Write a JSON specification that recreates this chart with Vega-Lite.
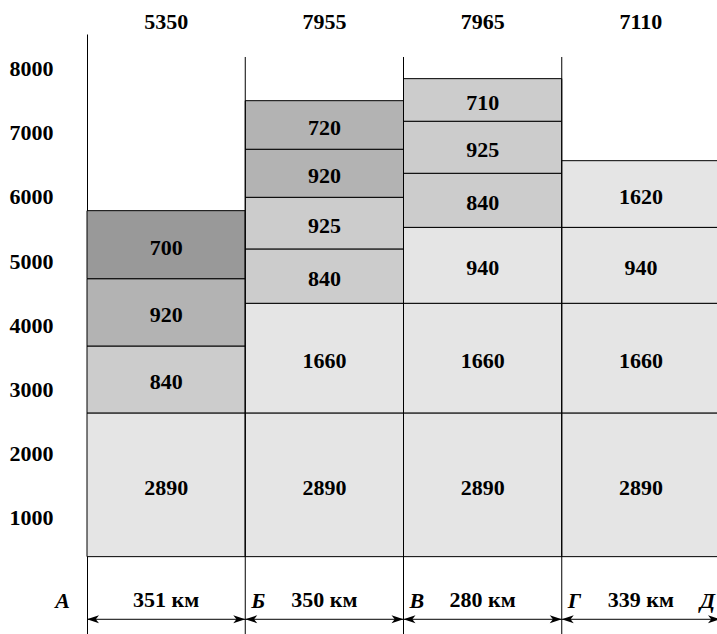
{
  "$schema": "https://vega.github.io/schema/vega-lite/v6.json",
  "autosize": "none",
  "padding": {"left": 87, "top": 34, "right": 0, "bottom": 0},
  "width": 633,
  "height": 600,
  "config": {"view": {"stroke": null}, "font": "Liberation Serif"},
  "datasets": {
    "segments": [
      {"seg": "А–Б", "from": "А", "to": "Б", "km": "351 км", "total": 5350},
      {"seg": "Б–В", "from": "Б", "to": "В", "km": "350 км", "total": 7955},
      {"seg": "В–Г", "from": "В", "to": "Г", "km": "280 км", "total": 7965},
      {"seg": "Г–Д", "from": "Г", "to": "Д", "km": "339 км", "total": 7110}
    ],
    "blocks": [
      {"seg": "А–Б", "value": 2890, "y0": 398, "y1": 2635, "level": "1"},
      {"seg": "А–Б", "value": 840, "y0": 2635, "y1": 3677, "level": "2"},
      {"seg": "А–Б", "value": 920, "y0": 3677, "y1": 4725, "level": "3"},
      {"seg": "А–Б", "value": 700, "y0": 4725, "y1": 5784, "level": "4"},
      {"seg": "Б–В", "value": 2890, "y0": 398, "y1": 2635, "level": "1"},
      {"seg": "Б–В", "value": 1660, "y0": 2635, "y1": 4342, "level": "1"},
      {"seg": "Б–В", "value": 840, "y0": 4342, "y1": 5188, "level": "2"},
      {"seg": "Б–В", "value": 925, "y0": 5188, "y1": 5992, "level": "2"},
      {"seg": "Б–В", "value": 920, "y0": 5992, "y1": 6740, "level": "3"},
      {"seg": "Б–В", "value": 720, "y0": 6740, "y1": 7496, "level": "3"},
      {"seg": "В–Г", "value": 2890, "y0": 398, "y1": 2635, "level": "1"},
      {"seg": "В–Г", "value": 1660, "y0": 2635, "y1": 4342, "level": "1"},
      {"seg": "В–Г", "value": 940, "y0": 4342, "y1": 5524, "level": "1"},
      {"seg": "В–Г", "value": 840, "y0": 5524, "y1": 6366, "level": "2"},
      {"seg": "В–Г", "value": 925, "y0": 6366, "y1": 7176, "level": "2"},
      {"seg": "В–Г", "value": 710, "y0": 7176, "y1": 7839, "level": "2"},
      {"seg": "Г–Д", "value": 2890, "y0": 398, "y1": 2635, "level": "1"},
      {"seg": "Г–Д", "value": 1660, "y0": 2635, "y1": 4342, "level": "1"},
      {"seg": "Г–Д", "value": 940, "y0": 4342, "y1": 5524, "level": "1"},
      {"seg": "Г–Д", "value": 1620, "y0": 5524, "y1": 6562, "level": "1"}
    ]
  },
  "layer": [
    {
      "data": {"name": "blocks"},
      "mark": {"type": "rect", "stroke": "black", "strokeWidth": 1},
      "encoding": {
        "x": {"field": "seg", "type": "nominal", "axis": null,
              "scale": {"domain": ["А–Б", "Б–В", "В–Г", "Г–Д"], "paddingInner": 0, "paddingOuter": 0}},
        "y": {"field": "y0", "type": "quantitative",
              "scale": {"domain": [-806, 8534], "nice": false, "zero": false},
              "axis": {"values": [1000, 2000, 3000, 4000, 5000, 6000, 7000, 8000], "format": "d", "title": null,
                       "grid": false, "ticks": false, "labelPadding": 34, "domainColor": "black",
                       "domainWidth": 1, "labelFont": "Liberation Serif", "labelFontWeight": "bold",
                       "labelFontSize": 22, "labelColor": "black"}},
        "y2": {"field": "y1"},
        "color": {"field": "level", "type": "nominal", "legend": null,
                  "scale": {"domain": ["1", "2", "3", "4"], "range": ["#e5e5e5", "#cccccc", "#b3b3b3", "#999999"]}}
      }
    },
    {
      "data": {"name": "blocks"},
      "transform": [{"calculate": "(datum.y0 + datum.y1) / 2", "as": "ymid"}],
      "mark": {"type": "text", "font": "Liberation Serif", "fontSize": 22, "fontWeight": "bold", "color": "black", "baseline": "middle", "dy": 3},
      "encoding": {
        "x": {"field": "seg", "type": "nominal", "axis": null},
        "y": {"field": "ymid", "type": "quantitative"},
        "text": {"field": "value", "type": "quantitative", "format": "d"}
      }
    },
    {
      "data": {"name": "segments"},
      "transform": [{"filter": "datum.seg !== 'А–Б'"}],
      "mark": {"type": "rule", "color": "black", "strokeWidth": 1},
      "encoding": {
        "x": {"field": "seg", "type": "nominal", "bandPosition": 0, "axis": null},
        "y": {"datum": 8176, "type": "quantitative"},
        "y2": {"datum": -806}
      }
    },
    {
      "data": {"name": "segments"},
      "mark": {"type": "text", "font": "Liberation Serif", "fontSize": 22, "fontWeight": "bold", "color": "black", "baseline": "middle"},
      "encoding": {
        "x": {"field": "seg", "type": "nominal", "axis": null},
        "y": {"datum": 8721, "type": "quantitative"},
        "text": {"field": "total", "type": "quantitative", "format": "d"}
      }
    },
    {
      "data": {"name": "segments"},
      "mark": {"type": "text", "font": "Liberation Serif", "fontSize": 22, "fontWeight": "bold", "color": "black", "baseline": "middle"},
      "encoding": {
        "x": {"field": "seg", "type": "nominal", "axis": null},
        "y": {"datum": -276, "type": "quantitative"},
        "text": {"field": "km", "type": "nominal"}
      }
    },
    {
      "data": {"name": "segments"},
      "transform": [{"filter": "datum.seg === 'А–Б'"}],
      "mark": {"type": "text", "font": "Liberation Serif", "fontSize": 22, "fontWeight": "bold", "fontStyle": "italic", "color": "black", "baseline": "middle", "align": "right", "dx": -17},
      "encoding": {
        "x": {"field": "seg", "type": "nominal", "bandPosition": 0, "axis": null},
        "y": {"datum": -290, "type": "quantitative"},
        "text": {"field": "from", "type": "nominal"}
      }
    },
    {
      "data": {"name": "segments"},
      "transform": [{"filter": "datum.seg !== 'А–Б'"}],
      "mark": {"type": "text", "font": "Liberation Serif", "fontSize": 22, "fontWeight": "bold", "fontStyle": "italic", "color": "black", "baseline": "middle", "align": "left", "dx": 6},
      "encoding": {
        "x": {"field": "seg", "type": "nominal", "bandPosition": 0, "axis": null},
        "y": {"datum": -290, "type": "quantitative"},
        "text": {"field": "from", "type": "nominal"}
      }
    },
    {
      "data": {"name": "segments"},
      "transform": [{"filter": "datum.seg === 'Г–Д'"}],
      "mark": {"type": "text", "font": "Liberation Serif", "fontSize": 22, "fontWeight": "bold", "fontStyle": "italic", "color": "black", "baseline": "middle", "align": "right", "dx": -5},
      "encoding": {
        "x": {"field": "seg", "type": "nominal", "bandPosition": 1, "axis": null},
        "y": {"datum": -290, "type": "quantitative"},
        "text": {"field": "to", "type": "nominal"}
      }
    },
    {
      "data": {"name": "segments"},
      "mark": {"type": "rule", "color": "black", "strokeWidth": 1},
      "encoding": {
        "x": {"field": "seg", "type": "nominal", "bandPosition": 0, "axis": null},
        "x2": {"field": "seg", "bandPosition": 1},
        "y": {"datum": -577, "type": "quantitative"}
      }
    },
    {
      "data": {"name": "segments"},
      "mark": {"type": "point", "filled": true, "color": "black", "opacity": 1, "size": 64, "strokeWidth": 0,
               "shape": "M0,0L3,-1L2.2,0L3,1Z"},
      "encoding": {
        "x": {"field": "seg", "type": "nominal", "bandPosition": 0, "axis": null},
        "y": {"datum": -577, "type": "quantitative"}
      }
    },
    {
      "data": {"name": "segments"},
      "mark": {"type": "point", "filled": true, "color": "black", "opacity": 1, "size": 64, "strokeWidth": 0,
               "shape": "M0,0L-3,-1L-2.2,0L-3,1Z"},
      "encoding": {
        "x": {"field": "seg", "type": "nominal", "bandPosition": 1, "axis": null},
        "y": {"datum": -577, "type": "quantitative"}
      }
    }
  ]
}
